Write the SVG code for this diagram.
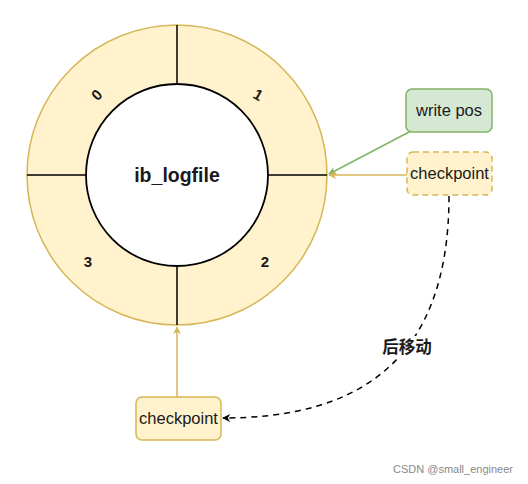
<svg xmlns="http://www.w3.org/2000/svg" width="528" height="484" viewBox="0 0 528 484">
<style>
text{font-family:"Liberation Sans",Arial,sans-serif;fill:#1a1a1a}
.lbl{font-size:15px;font-weight:bold}
.box{font-size:16.5px}
.y{fill:#fff2cc;stroke:#d6b656;stroke-width:1.5}
</style>
<defs>
<marker id="ay" viewBox="0 0 10 10" refX="9" refY="5" markerWidth="8" markerHeight="8" orient="auto" markerUnits="userSpaceOnUse"><path d="M0,0 L10,5 L0,10 L3,5 z" fill="#d6b656"/></marker>
<marker id="ag" viewBox="0 0 10 10" refX="9" refY="5" markerWidth="8" markerHeight="8" orient="auto" markerUnits="userSpaceOnUse"><path d="M0,0 L10,5 L0,10 L3,5 z" fill="#82b366"/></marker>
<marker id="ak" viewBox="0 0 10 10" refX="9" refY="5" markerWidth="8" markerHeight="8" orient="auto" markerUnits="userSpaceOnUse"><path d="M0,0 L10,5 L0,10 L3,5 z" fill="#000"/></marker>
</defs>
<rect width="528" height="484" fill="#fff"/>
<g id="ring">
<circle cx="177" cy="175" r="150" class="y"/>
<path d="M177,25 V84 M177,266 V325 M27,175 H86 M268,175 H327" stroke="#000" stroke-width="1.5" fill="none"/>
<circle cx="177" cy="175" r="91" fill="#fff" stroke="#000" stroke-width="1.8"/>
<text x="177" y="182" text-anchor="middle" font-size="19.5" font-weight="bold">ib_logfile</text>
<text class="lbl" x="97" y="100" text-anchor="middle" transform="rotate(-45 97 95)">0</text>
<text class="lbl" x="258" y="100" text-anchor="middle" transform="rotate(30 258 95)">1</text>
<text class="lbl" x="265" y="267" text-anchor="middle">2</text>
<text class="lbl" x="88" y="267" text-anchor="middle">3</text>
</g>
<g id="writepos">
<rect x="406" y="89" width="86" height="43" rx="6" fill="#d5e8d4" stroke="#82b366" stroke-width="1.5"/>
<text class="box" x="449" y="116" text-anchor="middle">write pos</text>
</g>
<g id="checkpoint1">
<rect x="407" y="152" width="85" height="43" rx="6" class="y" stroke-dasharray="6 4"/>
<text class="box" x="449.5" y="179" text-anchor="middle">checkpoint</text>
</g>
<g id="checkpoint2">
<rect x="136" y="397" width="85" height="43" rx="6" class="y"/>
<text class="box" x="178.5" y="424" text-anchor="middle">checkpoint</text>
</g>
<g id="connectors" fill="none">
<path d="M411,131 L329,174" stroke="#82b366" stroke-width="1.5" marker-end="url(#ag)"/>
<path d="M407,175 L329,175" stroke="#d6b656" stroke-width="1.5" marker-end="url(#ay)"/>
<path d="M177,397 L177,327" stroke="#d6b656" stroke-width="1.5" marker-end="url(#ay)"/>
<path d="M449,196 C449,360 360,418 223,418" stroke="#000" stroke-width="1.5" stroke-dasharray="6 5" marker-end="url(#ak)"/>
<rect x="379" y="336" width="56" height="21" fill="#fff"/>
<text x="407" y="353" text-anchor="middle" font-size="16.5" font-weight="bold" style="font-family:'Liberation Sans','Noto Sans CJK SC',sans-serif">后移动</text>
</g>
<text x="513" y="473" text-anchor="end" font-size="11" style="fill:#888">CSDN @small_engineer</text>
</svg>
